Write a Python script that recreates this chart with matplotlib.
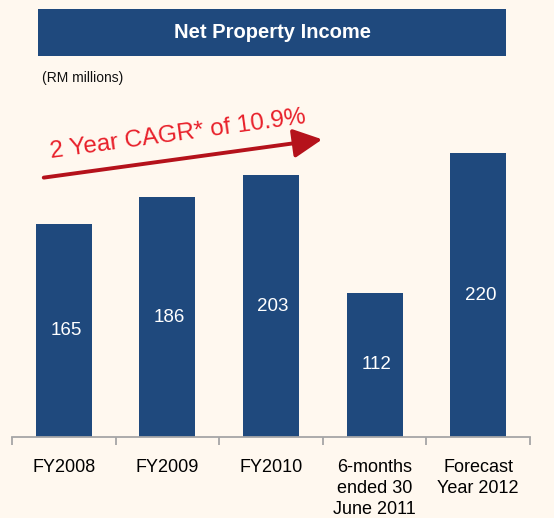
import matplotlib
matplotlib.use("Agg")
import matplotlib.pyplot as plt
from matplotlib.patches import Rectangle, FancyArrowPatch

categories = ["FY2008", "FY2009", "FY2010", "6-months\nended 30\nJune 2011", "Forecast\nYear 2012"]
values = [165, 186, 203, 112, 220]
title = "Net Property Income"
unit_label = "(RM millions)"
cagr_text = "2 Year CAGR* of 10.9%"

BG = "#FFF8EF"
BAR = "#1F497D"
W, H = 554, 518

plt.rcParams['font.family'] = ['Liberation Sans', 'DejaVu Sans']
fig = plt.figure(figsize=(W / 100, H / 100), dpi=100, facecolor=BG)

# axes: baseline at y=437 px from top, x from 12 to 530
ax_left, ax_right = 12, 530
ax_bottom_px, ax_top_px = 437, 60
ax = fig.add_axes([ax_left / W, (H - ax_bottom_px) / H, (ax_right - ax_left) / W,
                   (ax_bottom_px - ax_top_px) / H])
ax.set_facecolor(BG)
ppu = 1.29
ax.set_ylim(0, (ax_bottom_px - ax_top_px) / ppu)
ax.set_xlim(-0.5, len(categories) - 0.5)

x = list(range(len(categories)))
bars = ax.bar(x, values, width=0.54, color=BAR, zorder=2)
for xi, v in zip(x, values):
    ax.text(xi + 0.02, v / 2, str(v), ha="center", va="center", color="white", fontsize=13.5)

for s in ["top", "right", "left"]:
    ax.spines[s].set_visible(False)
ax.spines["bottom"].set_color("#A6A6A6")
ax.spines["bottom"].set_linewidth(1.3)
ax.set_yticks([])
ax.set_xticks(x)
ax.set_xticklabels(categories, fontsize=13, linespacing=1.3, va="top")
ax.tick_params(axis="x", which="major", length=0, pad=16)
ax.set_xticks([i - 0.5 for i in range(len(categories) + 1)], minor=True)
ax.tick_params(axis="x", which="minor", length=6, width=1.3, color="#A6A6A6", direction="out")

# title box
fig.patches.append(Rectangle((38 / W, (H - 56) / H), (506 - 38) / W, (56 - 9) / H,
                             transform=fig.transFigure, facecolor=BAR, edgecolor="none"))
fig.text((38 + 506) / 2 / W, (H - 33) / H, title, ha="center", va="center",
         color="white", fontsize=14.5, fontweight="bold")
fig.text(42 / W, (H - 78) / H, unit_label, ha="left", va="center", fontsize=10, color="#111111")

# CAGR arrow
arr = FancyArrowPatch((41 / W, (H - 178) / H), (325 / W, (H - 139) / H),
                      transform=fig.transFigure, arrowstyle="-|>,head_length=11,head_width=5.5",
                      color="#B5121B", linewidth=2.8, mutation_scale=1.6)
fig.patches.append(arr)
fig.text(178 / W, (H - 135) / H, cagr_text, ha="center", va="center", rotation=7.8,
         rotation_mode="anchor", color="#E8202A", fontsize=17.5)

fig.savefig("out.png", dpi=100, facecolor=BG)
